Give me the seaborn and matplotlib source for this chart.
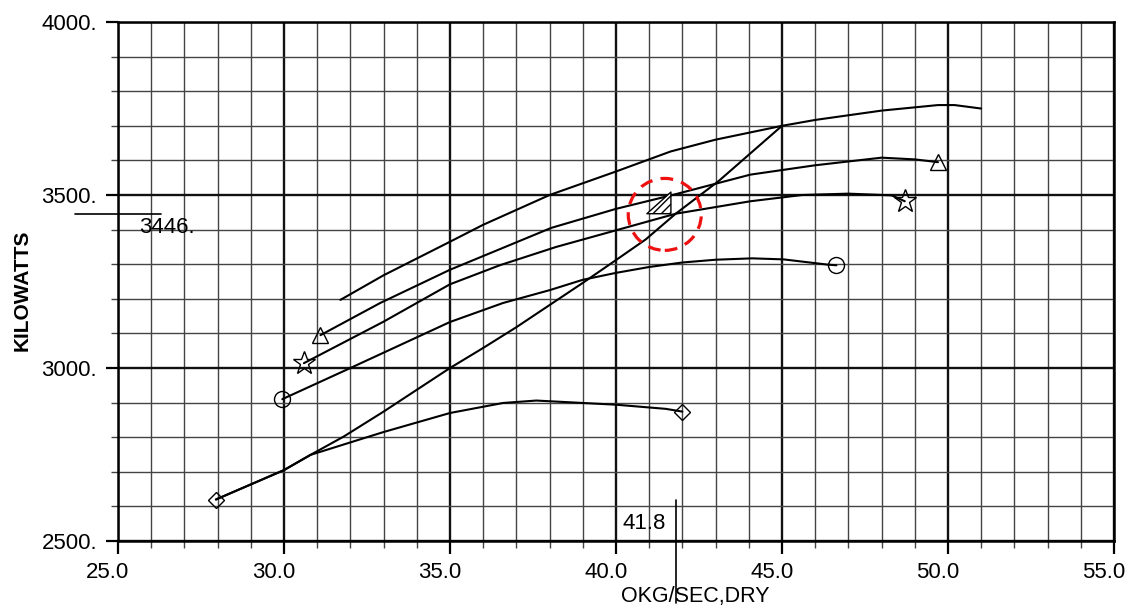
import numpy as np
import pandas as pd
import matplotlib
matplotlib.use("Agg")
import matplotlib.pyplot as plt
import matplotlib.transforms as mtransforms
import seaborn as sns
from matplotlib.patches import Ellipse
from matplotlib.ticker import MultipleLocator, FormatStrFormatter

# Curves (flow, kg/s dry  vs  power, kW)
top_x = [31.7, 33.0, 35.0, 36.0, 38.0, 39.0, 40.0, 41.65, 43.0, 45.0, 46.0, 48.0, 49.7, 50.2, 51.0]
top_y = [3197, 3268, 3365, 3414, 3500, 3534, 3568, 3626, 3660, 3700, 3717, 3744, 3760, 3760, 3750]

tri_x = [31.1, 32.9, 35.0, 38.05, 40.0, 41.7, 44.05, 46.0, 48.0, 49.0, 49.7]
tri_y = [3095, 3188, 3284, 3405, 3460, 3500, 3559, 3586, 3608, 3603, 3595]

star_x = [30.6, 33.0, 35.0, 36.5, 38.2, 41.8, 44.05, 45.6, 47.0, 48.3, 48.7]
star_y = [3014, 3134, 3242, 3297, 3350, 3446, 3482, 3500, 3504, 3499, 3482]

circ_x = [29.95, 32.0, 35.0, 36.6, 38.0, 39.0, 40.0, 41.0, 42.0, 43.0, 44.1, 45.05, 46.36, 46.64]
circ_y = [2910, 3000, 3133, 3188, 3225, 3255, 3275, 3292, 3305, 3313, 3317, 3314, 3299, 3297]

diam_x = [27.95, 30.0, 30.8, 33.0, 35.0, 36.6, 37.6, 40.0, 41.5, 42.0]
diam_y = [2620, 2705, 2749, 2815, 2870, 2899, 2906, 2894, 2882, 2874]

diag_x = [27.95, 30.0, 30.8, 31.8, 33.0, 35.0, 36.0, 37.0, 38.0, 39.0, 40.0, 40.9, 41.8, 43.1, 45.0]
diag_y = [2620, 2705, 2749, 2802, 2874, 3000, 3058, 3118, 3182, 3246, 3312, 3372, 3446, 3541, 3700]

# operating point picked out on the chart
pt_x = 41.8
pt_y = 3446

sns.set_theme(style="white")
plt.rcParams["font.family"] = ["Liberation Sans", "DejaVu Sans"]
plt.rcParams["text.color"] = "black"
plt.rcParams["axes.labelcolor"] = "black"
plt.rcParams["xtick.color"] = "black"
plt.rcParams["ytick.color"] = "black"

fig = plt.figure(figsize=(11.3, 6.07), dpi=100)
ax = fig.add_axes([0.1044, 0.1087, 0.8814, 0.855])

ax.set_xlim(25, 55)
ax.set_ylim(2500, 4000)
ax.xaxis.set_major_locator(MultipleLocator(5))
ax.xaxis.set_minor_locator(MultipleLocator(1))
ax.yaxis.set_major_locator(MultipleLocator(500))
ax.yaxis.set_minor_locator(MultipleLocator(100))
ax.xaxis.set_major_formatter(FormatStrFormatter("%.1f"))
ax.yaxis.set_major_formatter(FormatStrFormatter("%d."))

ax.grid(which="major", color="#111111", lw=1.7, zorder=0)
ax.grid(which="minor", color="#444444", lw=1.0, zorder=0)
ax.set_axisbelow(True)
ax.tick_params(which="major", direction="out", length=9, width=1.6, color="black",
               labelsize=16, pad=6, bottom=True, left=True)
ax.tick_params(which="minor", direction="out", length=5, width=1.0, color="#444444",
               bottom=True, left=True)
for s in ax.spines.values():
    s.set_color("black")
    s.set_linewidth(1.8)

# x tick labels sit a little left of their ticks in the original
shift = mtransforms.ScaledTranslation(-10 / 100, 0, fig.dpi_scale_trans)
for lab in ax.get_xticklabels():
    lab.set_transform(lab.get_transform() + shift)

line_kw = dict(color="black", lw=1.5, sort=False, estimator=None, ax=ax,
               markerfacecolor="none", markeredgecolor="black", markeredgewidth=1.0)

sns.lineplot(x=top_x, y=top_y, **line_kw)
sns.lineplot(x=tri_x, y=tri_y, marker="^", markersize=11, markevery=[0, len(tri_x) - 1], **line_kw)
sns.lineplot(x=star_x, y=star_y, marker="*", markersize=17, markevery=[0, len(star_x) - 1], **line_kw)
sns.lineplot(x=circ_x, y=circ_y, marker="o", markersize=11.5, markevery=[0, len(circ_x) - 1], **line_kw)
sns.lineplot(x=diam_x, y=diam_y, marker="D", markersize=8, markevery=[0, len(diam_x) - 1], **line_kw)
sns.lineplot(x=diag_x, y=diag_y, **line_kw)

# hatched flag marker at the chosen point
flag = [(-0.2, 0), (-1.2, 0), (-0.2, 0.9), (-0.2, 0)]
ax.scatter([pt_x], [pt_y], marker=flag, s=1725, facecolor="white", edgecolor="black",
           hatch="////", linewidths=1.0, zorder=4)

# red dashed ring around it
ring = Ellipse((pt_x - 0.33, pt_y - 2), width=2.2, height=208, fill=False,
               edgecolor="#ee1111", lw=2.3, linestyle=(0, (4, 2.6)), zorder=5)
ax.add_patch(ring)

# value callouts
ax.plot([23.7, 26.3], [pt_y, pt_y], color="black", lw=1.2, clip_on=False)
ax.text(25.65, pt_y - 40, "3446.", fontsize=16, ha="left", va="center")
ax.plot([pt_x, pt_x], [2620, 2320], color="black", lw=1.2, clip_on=False)
ax.text(pt_x - 0.3, 2552, f"{pt_x}", fontsize=16, ha="right", va="center")

ax.set_xlabel("OKG/SEC,DRY", fontsize=15.5)
ax.set_ylabel("KILOWATTS", fontsize=15, fontweight="bold")
ax.xaxis.set_label_coords(0.580, -0.086)
ax.yaxis.set_label_coords(-0.087, 0.484)

fig.savefig("out.png", dpi=100)
